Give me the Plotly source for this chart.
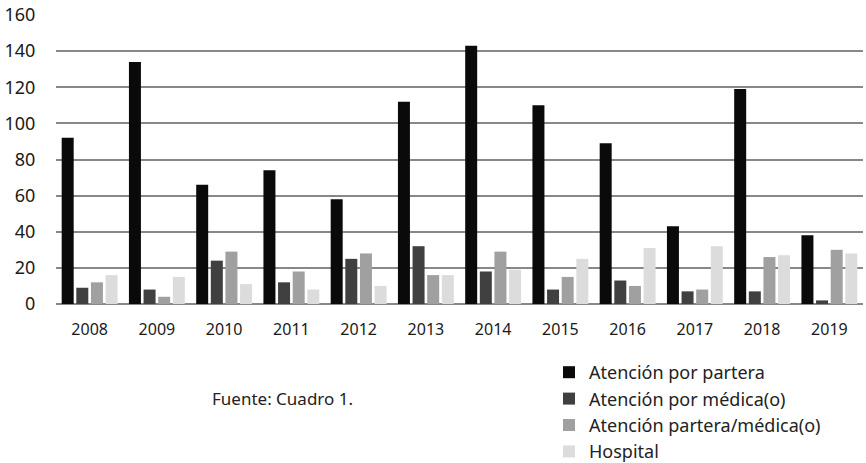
import plotly.graph_objects as go

years = ["2008", "2009", "2010", "2011", "2012", "2013", "2014", "2015", "2016", "2017", "2018", "2019"]
partera = [92, 134, 66, 74, 58, 112, 143, 110, 89, 43, 119, 38]
medica = [9, 8, 24, 12, 25, 32, 18, 8, 13, 7, 7, 2]
partera_medica = [12, 4, 29, 18, 28, 16, 29, 15, 10, 8, 26, 30]
hospital = [16, 15, 11, 8, 10, 16, 19, 25, 31, 32, 27, 28]

series = [
    ("Atención por partera", partera, "#0a0a0a"),
    ("Atención por médica(o)", medica, "#404040"),
    ("Atención partera/médica(o)", partera_medica, "#a0a0a0"),
    ("Hospital", hospital, "#dcdcdc"),
]

FONT = "Noto Sans"

fig = go.Figure()
for name, vals, col in series:
    fig.add_trace(go.Bar(x=years, y=vals, name=name, marker=dict(color=col, line=dict(width=0))))

L, R, T, B = 56, 3, 15, 159
W, H = 866, 463
pw, ph = W - L - R, H - T - B

fig.update_layout(
    width=W, height=H,
    margin=dict(l=L, r=R, t=T, b=B, autoexpand=False),
    paper_bgcolor="white", plot_bgcolor="white",
    barmode="group", bargap=0.13, bargroupgap=0.18,
    font=dict(family=FONT, color="#1a1a1a"),
    xaxis=dict(showgrid=False, showline=False, ticks="outside", ticklen=11, tickcolor="rgba(0,0,0,0)",
               tickfont=dict(size=16), automargin=False),
    yaxis=dict(range=[0, 160], dtick=20, showgrid=True, gridcolor="#888888", gridwidth=2,
               zeroline=True, zerolinecolor="#888888", zerolinewidth=2, showline=False,
               tickfont=dict(size=18), ticks="outside", ticklen=16, tickcolor="rgba(0,0,0,0)",
               automargin=False),
    legend=dict(x=(549 - L) / pw, y=(T + ph - 354) / ph, xanchor="left", yanchor="top",
                traceorder="normal", font=dict(size=18, color="#222222"), tracegroupgap=0,
                itemwidth=30, bgcolor="rgba(0,0,0,0)"),
    annotations=[dict(text="Fuente: Cuadro 1.", x=(282 - L) / pw, y=(T + ph - 398) / ph,
                      xref="paper", yref="paper", xanchor="center", yanchor="middle",
                      showarrow=False, font=dict(size=17, color="#222222"))],
)

fig.write_html("out.html")
